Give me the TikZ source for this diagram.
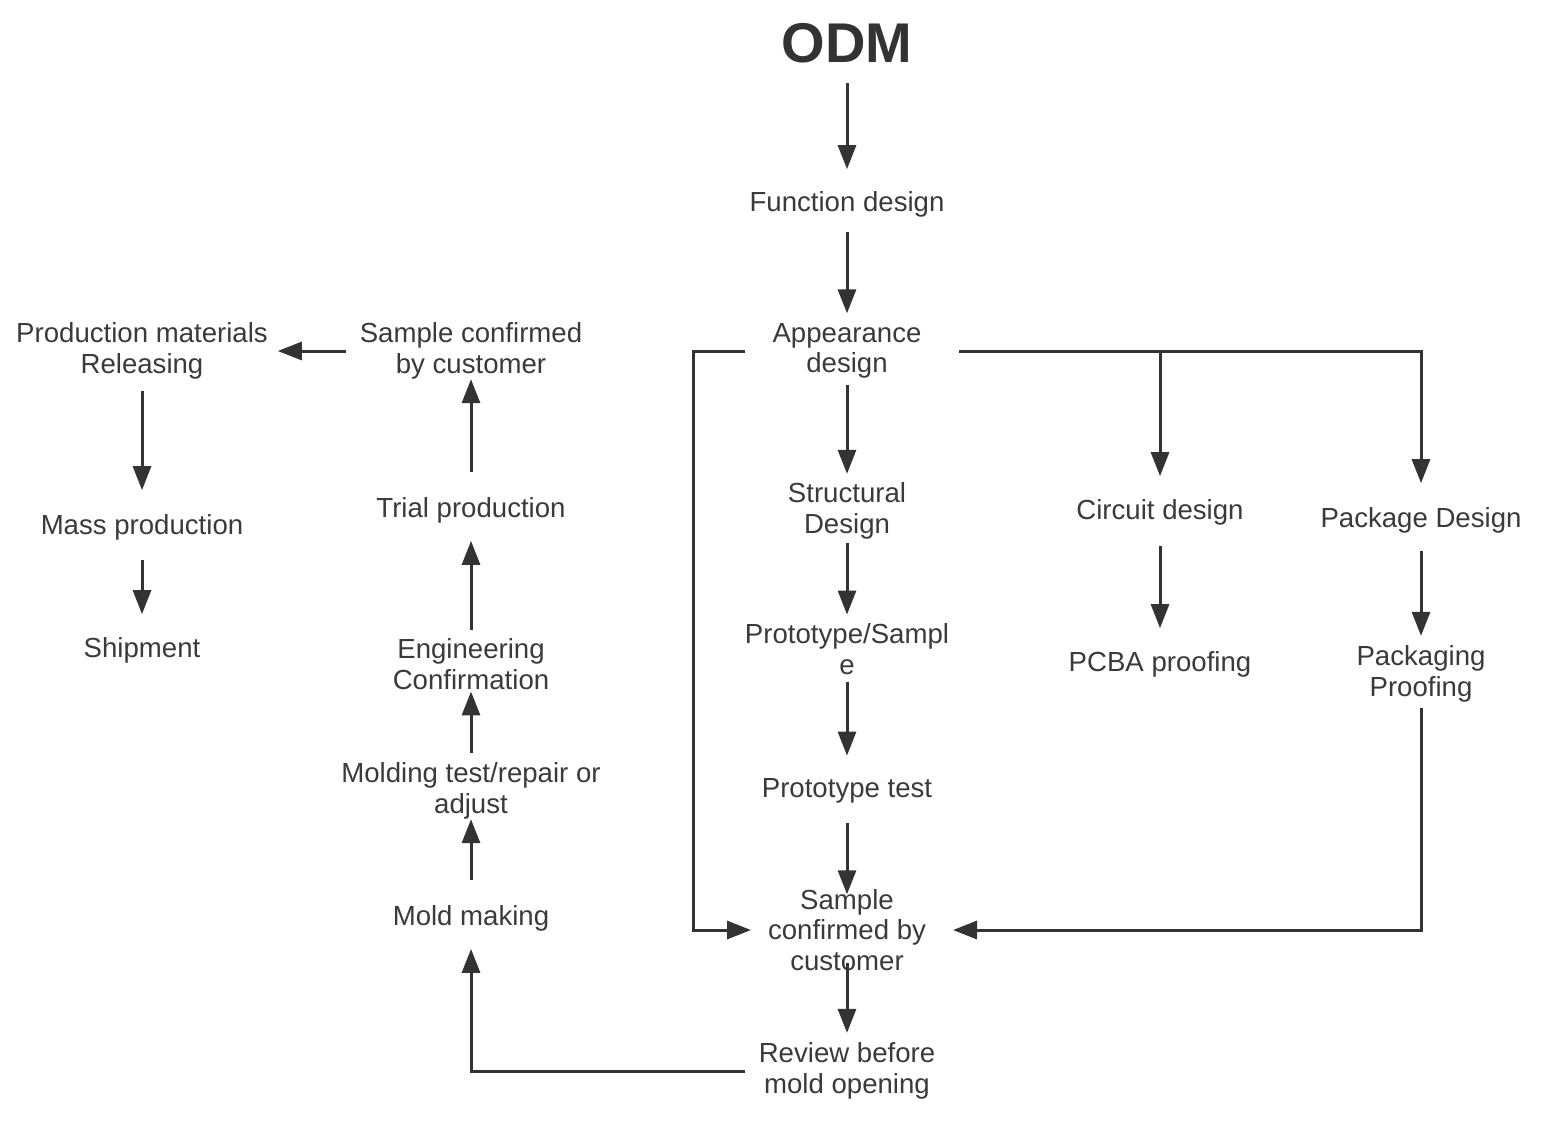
\documentclass[tikz,border=0pt]{standalone}
\usepackage{fontspec}
\setmainfont{Liberation Sans}
\usetikzlibrary{arrows.meta}
\definecolor{inkgray}{HTML}{333333}
\definecolor{textgray}{HTML}{3A3A3A}
\tikzset{
  stage/.style={inner sep=0pt,outer sep=0pt,align=center,text=textgray,
    font=\fontsize{13.8}{15.3}\selectfont},
  title/.style={inner sep=0pt,outer sep=0pt,text=inkgray,
    font=\fontsize{28}{30}\selectfont\bfseries},
  flow/.style={-{Triangle[length=12pt,width=9pt]},line width=1.5pt,draw=inkgray},
}

\begin{document}
\begin{tikzpicture}[x=0.5pt,y=-0.5pt]
  \useasboundingbox (0,0) rectangle (1556,1121);

  % main column
  \node[title] (odm) at (847,43) {ODM};
  \node[stage] (func) at (847,204) {Function design};
  \node[stage] (app) at (847,351) {Appearance\\design};
  \node[stage] (struct) at (847,511) {Structural\\Design};
  \node[stage] (proto) at (847,649) {Prototype/Sampl\\e};
  \node[stage] (ptest) at (847,791) {Prototype test};
  \node[stage] (samp) at (847,930) {Sample\\confirmed by\\customer};
  \node[stage] (rev) at (847,1071) {Review before\\mold opening};

  % circuit and package branches
  \node[stage] (circ) at (1160,512) {Circuit design};
  \node[stage] (pcba) at (1160,664) {PCBA proofing};
  \node[stage] (pkg) at (1421,520) {Package Design};
  \node[stage] (pproof) at (1421,674) {Packaging\\Proofing};

  % mold column
  \node[stage] (mold) at (471,918) {Mold making};
  \node[stage] (mtest) at (471,791) {Molding test/repair or\\adjust};
  \node[stage] (eng) at (471,664) {Engineering\\Confirmation};
  \node[stage] (trial) at (471,510) {Trial production};
  \node[stage] (sampl) at (471,351) {Sample confirmed\\by customer};

  % production column
  \node[stage] (prod) at (142,351) {Production materials\\Releasing};
  \node[stage] (mass) at (142,527) {Mass production};
  \node[stage] (ship) at (142,650) {Shipment};

  \draw[flow,shorten <=10pt,shorten >=11pt] (odm) -- (func);
  \draw[flow,shorten <=7.5pt,shorten >=5pt] (func) -- (app);
  \draw[flow,shorten <=3pt,shorten >=4.5pt] (app) -- (struct);
  \draw[flow,shorten <=2pt,shorten >=4.5pt] (struct) -- (proto);
  \draw[flow,shorten <=4pt,shorten >=11.5pt] (proto) -- (ptest);
  \draw[flow,shorten <=10pt,shorten >=-2.5pt] (ptest) -- (samp);
  \draw[flow,shorten <=-4pt,shorten >=5pt] (samp) -- (rev);

  \draw[flow,shorten <=14pt,shorten >=8.5pt] (app.west) -- ++(-79,0) |- (samp.west);
  \draw[flow,shorten <=19pt,shorten >=11.5pt] (app.east) -| (circ.north);
  \draw[flow,shorten <=19pt,shorten >=12pt] (app.east) -| (pkg.north);
  \draw[flow,shorten <=10.5pt,shorten >=11.5pt] (circ) -- (pcba);
  \draw[flow,shorten <=9pt,shorten >=5pt] (pkg) -- (pproof);
  \draw[flow,shorten <=3pt,shorten >=13.5pt] (pproof.south) |- (samp.east);

  \draw[flow,shorten <=7pt,shorten >=9pt] (rev.west) -| (mold.south);
  \draw[flow,shorten <=12.5pt,shorten >=0pt] (mold) -- (mtest);
  \draw[flow,shorten <=5pt,shorten >=1pt] (mtest) -- (eng);
  \draw[flow,shorten <=4.5pt,shorten >=9pt] (eng) -- (trial);
  \draw[flow,shorten <=12.5pt,shorten >=0pt] (trial) -- (sampl);
  \draw[flow,shorten <=7pt,shorten >=5pt] (sampl) -- (prod);
  \draw[flow,shorten <=6pt,shorten >=12pt] (prod) -- (mass);
  \draw[flow,shorten <=10pt,shorten >=11.5pt] (mass) -- (ship);
\end{tikzpicture}
\end{document}
